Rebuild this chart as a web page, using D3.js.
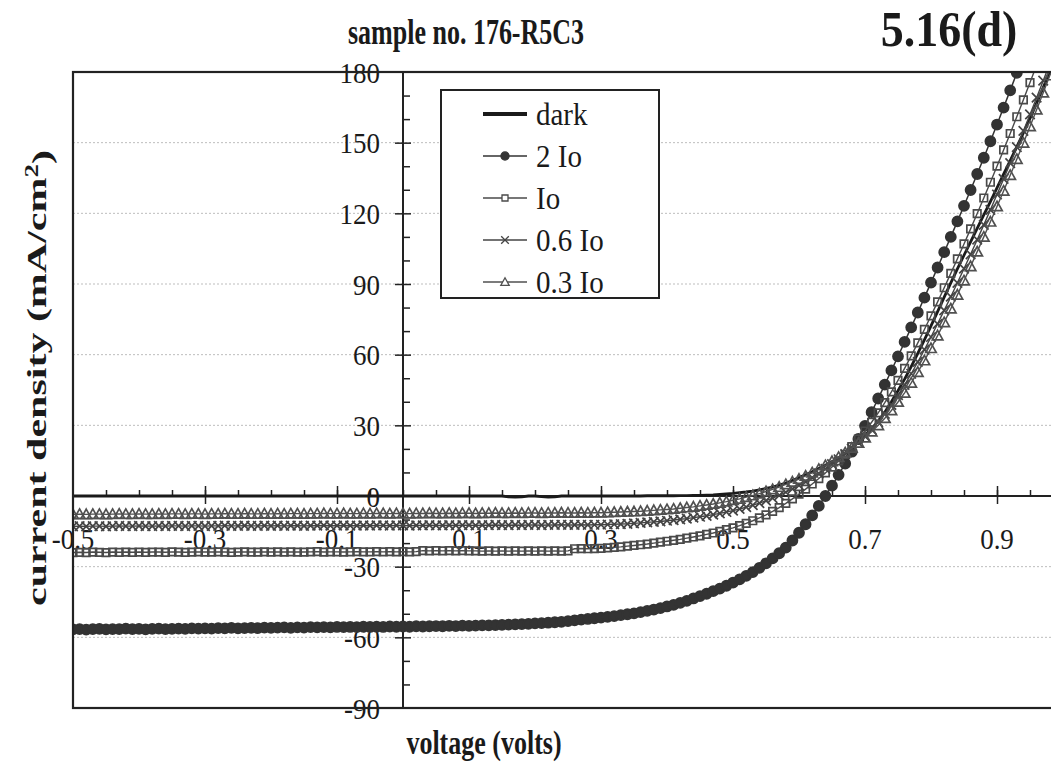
<!DOCTYPE html>
<html>
<head>
<meta charset="utf-8">
<script src="https://cdn.jsdelivr.net/npm/d3@7"></script>
<style>
  body { margin: 0; background: #ffffff; }
  svg { display: block; }
  text { font-family: "Liberation Serif", "Times New Roman", serif; fill: #1a1a1a; }
</style>
</head>
<body>
<svg id="chart" width="1051" height="772"></svg>
<script>
// Bias voltage sweep (V), 10 mV steps
const voltage = [
  -0.50,-0.49,-0.48,-0.47,-0.46,-0.45,-0.44,-0.43,-0.42,-0.41,
  -0.40,-0.39,-0.38,-0.37,-0.36,-0.35,-0.34,-0.33,-0.32,-0.31,
  -0.30,-0.29,-0.28,-0.27,-0.26,-0.25,-0.24,-0.23,-0.22,-0.21,
  -0.20,-0.19,-0.18,-0.17,-0.16,-0.15,-0.14,-0.13,-0.12,-0.11,
  -0.10,-0.09,-0.08,-0.07,-0.06,-0.05,-0.04,-0.03,-0.02,-0.01,
  0.00,0.01,0.02,0.03,0.04,0.05,0.06,0.07,0.08,0.09,
  0.10,0.11,0.12,0.13,0.14,0.15,0.16,0.17,0.18,0.19,
  0.20,0.21,0.22,0.23,0.24,0.25,0.26,0.27,0.28,0.29,
  0.30,0.31,0.32,0.33,0.34,0.35,0.36,0.37,0.38,0.39,
  0.40,0.41,0.42,0.43,0.44,0.45,0.46,0.47,0.48,0.49,
  0.50,0.51,0.52,0.53,0.54,0.55,0.56,0.57,0.58,0.59,
  0.60,0.61,0.62,0.63,0.64,0.65,0.66,0.67,0.68,0.69,
  0.70,0.71,0.72,0.73,0.74,0.75,0.76,0.77,0.78,0.79,
  0.80,0.81,0.82,0.83,0.84,0.85,0.86,0.87,0.88,0.89,
  0.90,0.91,0.92,0.93,0.94,0.95,0.96,0.97,0.98,0.99
];

// Current density (mA/cm^2) for each illumination level
const darkJ = [
  0,0,0,0,0,0,0,0,0,0, 0,0,0,0,0,0,0,0,0,0,
  0,0,0,0,0,0,0,0,0,0, 0,0,0,0,0,0,0,0,0,0,
  0,0,0,0,0,0,0,0,0,0,
  0,0,0,0,0,0,0,0,0,0, 0,0,0,0,0,0,-0.4,-0.5,-0.4,0,
  0,-0.3,-0.5,-0.4,0,0,0,0,0,0, 0,0,0,0,0,0,0,0.1,0.1,0.1,
  0.1,0.1,0.2,0.2,0.3,0.3,0.4,0.5,0.7,0.9,
  1.1,1.4,1.7,2.1,2.6,3.2,3.8,4.6,5.5,6.6,
  7.8,9.0,10.3,11.7,13.1,14.6,16.3,18.2,20.5,23.0,
  25.7,28.6,31.8,35.6,40.0,44.7,49.6,54.9,60.5,66.3,
  72.2,78.3,84.4,90.5,96.4,102.2,107.9,113.6,119.3,125.0,
  130.8,136.6,142.4,148.2,154.1,160.3,166.8,173.4,180.0,186.6
];

const twoIoJ = [
  -56.6,-56.5,-56.7,-56.5,-56.4,-56.6,-56.5,-56.5,-56.3,-56.5,
  -56.4,-56.6,-56.4,-56.3,-56.5,-56.4,-56.3,-56.4,-56.2,-56.3,
  -56.2,-56.3,-56.1,-56.2,-56.0,-56.2,-56.1,-56.0,-56.1,-55.9,
  -56.0,-55.9,-55.8,-56.0,-55.8,-55.9,-55.7,-55.8,-55.7,-55.8,
  -55.6,-55.7,-55.6,-55.7,-55.5,-55.6,-55.5,-55.6,-55.4,-55.5,
  -55.4,-55.5,-55.3,-55.4,-55.3,-55.2,-55.3,-55.1,-55.2,-55.0,
  -55.1,-55.0,-54.9,-54.9,-54.8,-54.7,-54.6,-54.5,-54.4,-54.3,
  -54.1,-54.0,-53.8,-53.6,-53.4,-53.1,-52.8,-52.5,-52.2,-51.9,
  -51.6,-51.3,-51.0,-50.6,-50.2,-49.8,-49.3,-48.8,-48.2,-47.6,
  -46.9,-46.2,-45.4,-44.5,-43.5,-42.5,-41.5,-40.4,-39.3,-38.1,
  -36.8,-35.4,-33.9,-32.3,-30.5,-28.6,-26.5,-24.3,-21.9,-18.9,
  -15.6,-12.0,-8.2,-4.2,0.0,4.4,9.0,13.8,18.8,24.2,
  29.8,35.6,41.4,47.3,53.3,59.3,65.4,71.6,77.9,84.2,
  90.6,97.0,103.5,110.0,116.6,123.2,129.9,136.7,143.6,150.6,
  157.7,164.9,172.2,179.6,187.1
];

const ioJ = [
  -24.0,-23.9,-24.0,-23.8,-23.9,-24.0,-23.8,-23.9,-23.8,-23.9,
  -23.8,-23.9,-23.8,-23.8,-23.9,-23.7,-23.8,-23.9,-23.8,-23.7,
  -23.8,-23.8,-23.7,-23.8,-23.9,-23.8,-23.7,-23.8,-23.8,-23.7,
  -23.8,-23.7,-23.8,-23.7,-23.8,-23.8,-23.7,-23.6,-23.8,-23.7,
  -23.7,-23.8,-23.7,-23.6,-23.7,-23.7,-23.6,-23.7,-23.6,-23.7,
  -23.6,-23.7,-23.6,-23.2,-23.3,-23.2,-23.3,-23.2,-23.3,-23.2,
  -23.3,-23.3,-23.4,-23.3,-23.4,-23.3,-23.4,-23.3,-23.4,-23.3,
  -23.4,-23.3,-23.4,-23.3,-23.4,-23.3,-22.4,-22.3,-22.4,-22.3,
  -22.2,-22.0,-21.8,-21.6,-21.3,-21.0,-20.7,-20.4,-20.0,-19.6,
  -19.2,-18.8,-18.4,-17.9,-17.4,-16.9,-16.3,-15.7,-15.0,-14.3,
  -13.5,-12.6,-11.6,-10.5,-9.3,-8.0,-6.5,-4.9,-3.1,-1.2,
  0.8,2.9,5.1,7.4,9.8,12.3,14.9,17.7,21.0,24.2,
  27.6,31.3,35.3,39.6,44.2,49.1,54.2,59.5,65.0,70.7,
  76.5,82.4,88.4,94.5,100.7,107.0,113.4,119.9,126.5,133.2,
  140.0,146.9,153.9,161.0,168.2,175.5,182.9
];

const sixTenthsIoJ = [
  -12.9,-12.8,-12.9,-12.8,-12.8,-12.9,-12.8,-12.7,-12.8,-12.8,
  -12.7,-12.8,-12.8,-12.7,-12.8,-12.7,-12.7,-12.8,-12.7,-12.7,
  -12.8,-12.7,-12.7,-12.6,-12.7,-12.7,-12.6,-12.7,-12.7,-12.6,
  -12.7,-12.6,-12.7,-12.6,-12.6,-12.7,-12.6,-12.6,-12.5,-12.6,
  -12.6,-12.5,-12.6,-12.6,-12.5,-12.6,-12.5,-12.5,-12.6,-12.5,
  -12.5,-12.6,-12.5,-12.5,-12.4,-12.5,-12.5,-12.4,-12.5,-12.4,
  -12.4,-12.5,-12.4,-12.4,-12.3,-12.4,-12.4,-12.3,-12.4,-12.3,
  -12.3,-12.4,-12.3,-12.3,-12.2,-12.3,-12.3,-12.2,-12.3,-12.2,
  -12.2,-12.1,-12.0,-11.9,-11.8,-11.6,-11.4,-11.2,-11.0,-10.8,
  -10.5,-10.2,-9.9,-9.6,-9.2,-8.8,-8.4,-7.9,-7.4,-6.8,
  -6.2,-5.5,-4.7,-3.9,-3.0,-2.0,-0.9,0.3,1.6,3.0,
  4.5,6.1,7.8,9.6,11.5,13.5,15.6,17.8,20.1,22.6,
  25.3,28.2,31.4,34.9,38.7,42.8,47.2,51.9,56.9,62.1,
  67.5,73.1,78.8,84.6,90.5,96.5,102.6,108.8,115.1,121.5,
  128.0,134.6,141.3,148.1,155.0,162.0,169.1,176.3,183.6
];

const threeTenthsIoJ = [
  -7.8,-7.7,-7.8,-7.7,-7.7,-7.8,-7.7,-7.6,-7.7,-7.7,
  -7.6,-7.7,-7.7,-7.6,-7.7,-7.6,-7.6,-7.7,-7.6,-7.6,
  -7.7,-7.6,-7.6,-7.5,-7.6,-7.6,-7.5,-7.6,-7.6,-7.5,
  -7.6,-7.5,-7.6,-7.5,-7.5,-7.6,-7.5,-7.5,-7.4,-7.5,
  -7.5,-7.4,-7.5,-7.5,-7.4,-7.5,-7.4,-7.4,-7.5,-7.4,
  -7.4,-7.5,-7.4,-7.4,-7.3,-7.4,-7.4,-7.3,-7.4,-7.3,
  -7.3,-7.4,-7.3,-7.3,-7.2,-7.3,-7.3,-7.2,-7.3,-7.2,
  -7.2,-7.3,-7.2,-7.2,-7.1,-7.2,-7.2,-7.1,-7.2,-7.1,
  -7.1,-7.0,-6.9,-6.8,-6.7,-6.6,-6.5,-6.3,-6.1,-5.9,
  -5.7,-5.5,-5.2,-4.9,-4.6,-4.2,-3.8,-3.4,-2.9,-2.4,
  -1.8,-1.2,-0.5,0.2,1.0,1.9,2.8,3.8,4.9,6.0,
  7.2,8.5,9.9,11.4,13.0,14.7,16.5,18.4,20.4,22.5,
  24.8,27.3,30.0,33.0,36.3,39.9,43.8,48.0,52.6,57.5,
  62.7,68.1,73.7,79.5,85.4,91.4,97.5,103.7,110.0,116.4,
  122.9,129.5,136.2,143.0,149.9,156.9,164.0,171.2,178.5,185.9
];

const seriesNames = ["dark", "2 Io", "Io", "0.6 Io", "0.3 Io"];
const xTickValues = [-0.5, -0.3, -0.1, 0.1, 0.3, 0.5, 0.7, 0.9];
const yTickValues = [-90, -60, -30, 0, 30, 60, 90, 120, 150, 180];

const svg = d3.select("#chart");
const plot = { left: 73, right: 1063, top: 72, bottom: 708 };

const x = d3.scaleLinear().domain([-0.5, 1.0]).range([plot.left, plot.right]);
const y = d3.scaleLinear().domain([-90, 180]).range([plot.bottom, plot.top]);

// plain hyphen for negative labels, as in the printed figure
const fmtY = d => String(d);
const fmtX = d => d.toFixed(1);

svg.append("rect").attr("width", 1051).attr("height", 772).attr("fill", "#ffffff");

svg.append("defs").append("clipPath").attr("id", "plot-clip")
  .append("rect")
  .attr("x", plot.left).attr("y", plot.top)
  .attr("width", plot.right - plot.left).attr("height", plot.bottom - plot.top);

// horizontal gridlines
svg.append("g").selectAll("line")
  .data(yTickValues.filter(v => v !== 0 && v !== -90 && v !== 180))
  .join("line")
  .attr("x1", plot.left).attr("x2", plot.right)
  .attr("y1", d => y(d)).attr("y2", d => y(d))
  .attr("stroke", "#bdbdbd").attr("stroke-width", 1)
  .attr("stroke-dasharray", "2,2");

const axisColor = "#222222";
const x0 = x(0), y0 = y(0);

// x axis: minor ticks every 0.05 pointing up, major ticks crossing the line
const xMinor = d3.range(-0.45, 1.0001, 0.05).map(v => +v.toFixed(2));
svg.append("g").attr("transform", `translate(0,${y0})`)
  .call(d3.axisTop(x).tickValues(xMinor).tickSize(6).tickFormat(""))
  .call(g => g.select(".domain").remove())
  .call(g => g.selectAll("line").attr("stroke", axisColor).attr("stroke-width", 1.5));
svg.append("g").attr("transform", `translate(0,${y0})`)
  .call(d3.axisBottom(x).tickValues(xTickValues.slice(1)).tickSize(8).tickSizeOuter(0).tickFormat(""))
  .call(g => g.select(".domain").remove())
  .call(g => g.selectAll("line").attr("y1", -10).attr("stroke", axisColor).attr("stroke-width", 1.5));

// y axis: minor ticks every 10 to the right, major ticks crossing
const yMinor = d3.range(-80, 181, 10).filter(v => v % 30 !== 0);
svg.append("g").attr("transform", `translate(${x0},0)`)
  .call(d3.axisRight(y).tickValues(yMinor).tickSize(7).tickFormat(""))
  .call(g => g.select(".domain").remove())
  .call(g => g.selectAll("line").attr("stroke", axisColor).attr("stroke-width", 1.5));
svg.append("g").attr("transform", `translate(${x0},0)`)
  .call(d3.axisRight(y).tickValues(yTickValues.filter(v => v !== 0 && v !== -90 && v !== 180)).tickSize(8).tickFormat(""))
  .call(g => g.select(".domain").remove())
  .call(g => g.selectAll("line").attr("x1", -8).attr("stroke", axisColor).attr("stroke-width", 1.5));

svg.append("line")
  .attr("x1", plot.left).attr("x2", plot.right).attr("y1", y0).attr("y2", y0)
  .attr("stroke", axisColor).attr("stroke-width", 2);
svg.append("line")
  .attr("x1", x0).attr("x2", x0).attr("y1", plot.top).attr("y2", plot.bottom)
  .attr("stroke", axisColor).attr("stroke-width", 2);

// tick labels (slightly tall, like the printed serif digits)
svg.append("g").selectAll("text")
  .data(yTickValues)
  .join("text")
  .attr("transform", d => `translate(${x0 - 23},${y(d)}) scale(1,1.1)`)
  .attr("dy", "0.36em")
  .attr("text-anchor", "end")
  .attr("font-size", 27)
  .text(fmtY);

svg.append("g").selectAll("text")
  .data(xTickValues)
  .join("text")
  .attr("transform", d => `translate(${x(d)},${y0 + 53}) scale(1,1.1)`)
  .attr("text-anchor", "middle")
  .attr("font-size", 27)
  .text(fmtX);

// marker shapes
function markerPath(kind, s) {
  if (kind === "circle") return d3.symbol(d3.symbolCircle, s * s * 0.8)();
  if (kind === "square") { const h = s / 2; return `M${-h},${-h}H${h}V${h}H${-h}Z`; }
  if (kind === "cross") { const h = s / 2; return `M${-h},${-h}L${h},${h}M${-h},${h}L${h},${-h}`; }
  if (kind === "triangle") { const h = s / 2; return `M0,${-h}L${h},${h * 0.8}L${-h},${h * 0.8}Z`; }
  return "";
}

const series = [
  { name: seriesNames[0], values: darkJ, color: "#1a1a1a", width: 2.8, marker: null },
  { name: seriesNames[1], values: twoIoJ, color: "#333333", width: 1.5, marker: "circle", size: 10, fill: "#333333" },
  { name: seriesNames[2], values: ioJ, color: "#4a4a4a", width: 1.4, marker: "square", size: 7.5, fill: "none" },
  { name: seriesNames[3], values: sixTenthsIoJ, color: "#444444", width: 1.4, marker: "cross", size: 9.5, fill: "none" },
  { name: seriesNames[4], values: threeTenthsIoJ, color: "#505050", width: 1.4, marker: "triangle", size: 10.5, fill: "none" }
];

const line = d3.line().x(d => x(d[0])).y(d => y(d[1]));
const plotG = svg.append("g").attr("clip-path", "url(#plot-clip)");

series.forEach(s => {
  const pts = s.values.map((v, i) => [voltage[i], v]);
  plotG.append("path")
    .attr("d", line(pts))
    .attr("fill", "none")
    .attr("stroke", s.color)
    .attr("stroke-width", s.width);
  if (s.marker) {
    plotG.append("g").selectAll("path")
      .data(pts)
      .join("path")
      .attr("transform", d => `translate(${x(d[0])},${y(d[1])})`)
      .attr("d", markerPath(s.marker, s.size))
      .attr("fill", s.fill)
      .attr("stroke", s.color)
      .attr("stroke-width", 1.7);
  }
});

// plot frame
svg.append("rect")
  .attr("x", plot.left).attr("y", plot.top)
  .attr("width", plot.right - plot.left).attr("height", plot.bottom - plot.top)
  .attr("fill", "none").attr("stroke", axisColor).attr("stroke-width", 2.2);

// legend
const legend = svg.append("g");
legend.append("rect")
  .attr("x", 441).attr("y", 90).attr("width", 218).attr("height", 208)
  .attr("fill", "#ffffff").attr("stroke", axisColor).attr("stroke-width", 2);
series.forEach((s, i) => {
  const ly = 114 + i * 42;
  legend.append("line")
    .attr("x1", 483).attr("x2", 527).attr("y1", ly).attr("y2", ly)
    .attr("stroke", s.color).attr("stroke-width", i === 0 ? 4 : 1.3);
  if (s.marker) {
    legend.append("path")
      .attr("transform", `translate(505,${ly})`)
      .attr("d", markerPath(s.marker, s.size * 0.8))
      .attr("fill", s.fill === "none" ? "#ffffff" : s.fill)
      .attr("stroke", s.color).attr("stroke-width", 1.3);
  }
  legend.append("text")
    .attr("transform", `translate(536,${ly}) scale(1,1.1)`)
    .attr("dy", "0.35em")
    .attr("font-size", 29)
    .text(s.name);
});

// titles
svg.append("text")
  .attr("transform", "translate(466,44) scale(1,1.4)")
  .attr("text-anchor", "middle").attr("font-size", 26).attr("font-weight", "bold")
  .text("sample no. 176-R5C3");
svg.append("text")
  .attr("transform", "translate(949,46) scale(1,1.1)")
  .attr("text-anchor", "middle").attr("font-size", 46).attr("font-weight", "bold")
  .text("5.16(d)");

svg.append("text")
  .attr("transform", "translate(484,754) scale(1,1.3)")
  .attr("text-anchor", "middle").attr("font-size", 26).attr("font-weight", "bold")
  .text("voltage (volts)");

// y title: long and narrow along the axis
const yTitle = svg.append("text")
  .attr("transform", "translate(46,378) rotate(-90) scale(1.5,1)")
  .attr("text-anchor", "middle").attr("font-size", 28).attr("font-weight", "bold");
yTitle.append("tspan").text("current density (mA/cm");
yTitle.append("tspan").attr("dy", "-0.45em").attr("font-size", 18).text("2");
yTitle.append("tspan").attr("dy", "0.45em").text(")");
</script>
</body>
</html>
